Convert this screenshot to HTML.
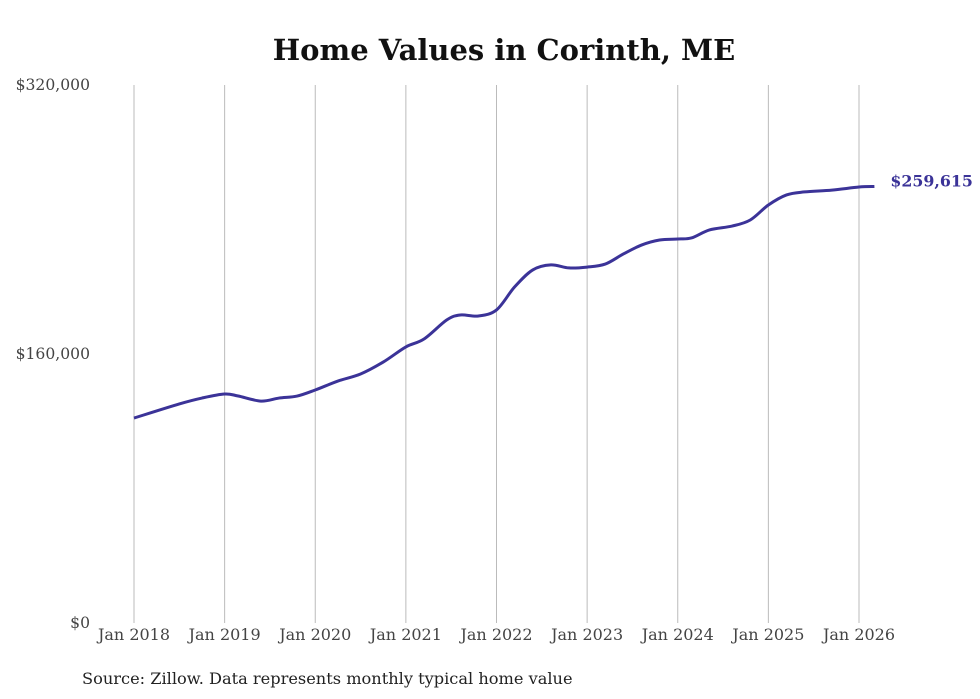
<!DOCTYPE html>
<html><head><meta charset="utf-8"><style>
body{margin:0;background:#fff;width:980px;height:699px;overflow:hidden}
svg{display:block}
</style></head><body>
<svg id="chart" width="980" height="699">
<text x="504" y="60" text-anchor="middle" font-family="'DejaVu Serif',serif" font-weight="bold" font-size="29" fill="#111">Home Values in Corinth, ME</text>
<g id="grid"></g><g id="yt"></g><g id="xt"></g><g id="series"></g>
<text x="82" y="684" font-family="'DejaVu Serif',serif" font-size="16.2" fill="#222">Source: Zillow. Data represents monthly typical home value</text>
</svg>
<script>
const xYears=[2018,2018.5,2018.75,2019,2019.15,2019.4,2019.6,2019.8,2020,2020.25,2020.5,2020.75,2021,2021.2,2021.45,2021.6,2021.8,2022,2022.2,2022.4,2022.6,2022.8,2023,2023.2,2023.4,2023.6,2023.8,2024,2024.15,2024.35,2024.6,2024.8,2025,2025.2,2025.4,2025.7,2026,2026.17];
const values=[121900,130300,133800,136200,135000,132000,133800,135000,138600,143900,148100,155200,164200,168900,180200,183200,182600,186200,199900,210000,213000,211200,211700,213500,219500,224800,227800,228400,229000,233800,236100,239700,248600,254600,256400,257500,259300,259615];
const yTicks=[0,160000,320000];
const yTickLabels=["$0","$160,000","$320,000"];
const xTicks=[2018,2019,2020,2021,2022,2023,2024,2025,2026];
const xTickLabels=["Jan 2018","Jan 2019","Jan 2020","Jan 2021","Jan 2022","Jan 2023","Jan 2024","Jan 2025","Jan 2026"];
const lastLabel="$259,615";
const NS="http://www.w3.org/2000/svg";
const X=v=>134+(v-2018)*90.625;
const Y=v=>623-v/320000*538;
function mk(t,a,p){const e=document.createElementNS(NS,t);for(const k in a)e.setAttribute(k,a[k]);p.appendChild(e);return e;}
const grid=document.getElementById('grid'),yt=document.getElementById('yt'),xt=document.getElementById('xt'),ser=document.getElementById('series');
xTicks.forEach((t,i)=>{
 const l=mk('line',{x1:X(t),x2:X(t),y1:85,y2:623,stroke:'#bbb','stroke-width':1},grid);
 
 
 const tx=mk('text',{x:X(t),y:640,'text-anchor':'middle','font-family':"'DejaVu Serif',serif",'font-size':16,fill:'#444'},xt);
 tx.textContent=xTickLabels[i];
 
 
});
yTicks.forEach((t,i)=>{
 const tx=mk('text',{x:90,y:Y(t)+5,'text-anchor':'end','font-family':"'DejaVu Serif',serif",'font-size':15.6,fill:'#444'},yt);
 tx.textContent=yTickLabels[i];
 
 
});
const pts=xYears.map((x,i)=>[X(x),Y(values[i])]);
let d=`M${pts[0][0]},${pts[0][1]}`;
for(let i=0;i<pts.length-1;i++){
 const p0=pts[i-1]||pts[i],p1=pts[i],p2=pts[i+1],p3=pts[i+2]||p2;
 const c1=[p1[0]+(p2[0]-p0[0])/6,p1[1]+(p2[1]-p0[1])/6],c2=[p2[0]-(p3[0]-p1[0])/6,p2[1]-(p3[1]-p1[1])/6];
 d+=`C${c1[0]},${c1[1]} ${c2[0]},${c2[1]} ${p2[0]},${p2[1]}`;
}
const path=mk('path',{d,fill:'none',stroke:'#3b3398','stroke-width':3,'stroke-linejoin':'round'},ser);


const last=pts[pts.length-1];
const lb=mk('text',{x:last[0]+16,y:last[1],'font-family':"'DejaVu Serif',serif",'font-size':15.8,'font-weight':'bold',fill:'#3b3398'},ser);
lb.textContent=lastLabel;


</script>
</body></html>
